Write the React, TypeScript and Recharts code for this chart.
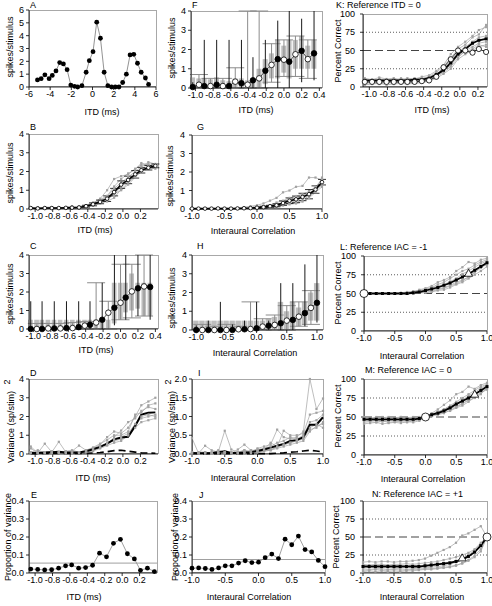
import React from "react";
import { ComposedChart, Line, Scatter, Bar, XAxis, YAxis, ErrorBar, ReferenceLine } from "recharts";

// ---- x grids ----
const A_X = [-5.2, -4.85, -4.5, -4.1, -3.8, -3.45, -3.1, -2.75, -2.4, -2.05, -1.7, -1.4, -1.0, -0.6, -0.3, 0.05, 0.4, 0.75, 1.1, 1.45, 1.8, 2.15, 2.5, 2.85, 3.2, 3.55, 3.9, 4.25, 4.6, 5.0, 5.3];
const ITD19 = [-1.05, -0.97, -0.89, -0.81, -0.73, -0.65, -0.58, -0.5, -0.42, -0.34, -0.26, -0.18, -0.1, -0.02, 0.06, 0.14, 0.21, 0.29, 0.37];
const ITD_K = [-1.05, -0.97, -0.89, -0.81, -0.73, -0.65, -0.58, -0.5, -0.42, -0.34, -0.26, -0.18, -0.1, -0.02, 0.06, 0.14, 0.21, 0.29];
const IAC21 = [-1, -0.9, -0.8, -0.7, -0.6, -0.5, -0.4, -0.3, -0.2, -0.1, 0, 0.1, 0.2, 0.3, 0.4, 0.5, 0.6, 0.7, 0.8, 0.9, 1];
const BOX_ITD = [-1.03, -0.96, -0.9, -0.83, -0.76, -0.69, -0.62, -0.55, -0.48, -0.41, -0.35, -0.28, -0.21, -0.14, -0.07, 0, 0.06, 0.13, 0.2, 0.27, 0.34];

// ---- ticks ----
const A_TICKS = [-6, -4, -2, 0, 2, 4, 6];
const A_YTICKS = [0, 1, 2, 3, 4, 5, 6];
const ITD_TICKS = [-1, -0.8, -0.6, -0.4, -0.2, 0, 0.2];
const ITD_TICKS4 = [-1, -0.8, -0.6, -0.4, -0.2, 0, 0.2, 0.4];
const IAC_TICKS = [-1, -0.5, 0, 0.5, 1];
const SPIKE_TICKS = [0, 1, 2, 3, 4];
const VAR_I_TICKS = [0, 0.5, 1, 1.5, 2];
const PROP_TICKS = [0, 0.1, 0.2, 0.3, 0.4];
const PC_TICKS = [0, 25, 50, 75, 100];

// ---- A ----
const A_Y = [0.55, 0.65, 0.95, 0.65, 0.9, 1.25, 1.9, 1.8, 1.35, 0.15, 0.05, 0, 0.1, 1.15, 2.05, 2.75, 5.05, 3.8, 1.15, 0.1, 0, 0, 0, 0.35, 1.0, 2.5, 2.55, 1.85, 1.15, 0.7, 0.2];

// ---- B ----
const B_MEAN = [0.05, 0.03, 0.05, 0.05, 0.05, 0.06, 0.07, 0.08, 0.15, 0.25, 0.38, 0.55, 0.9, 1.3, 1.55, 1.85, 2.07, 2.2, 2.3];
const B_ERR = [0, 0, 0, 0, 0, 0, 0, 0, 0.05, 0.08, 0.1, 0.15, 0.2, 0.2, 0.2, 0.2, 0.15, 0.12, 0.1];
const B_INDIV = [
  [0.05, 0.05, 0.05, 0.1, 0.05, 0.1, 0.15, 0.1, 0.2, 0.3, 0.55, 1.0, 1.6, 1.75, 1.85, 2.15, 2.35, 2.4, 2.4],
  [0.05, 0.05, 0.05, 0.05, 0.05, 0.05, 0.05, 0.1, 0.15, 0.2, 0.3, 0.5, 0.8, 1.0, 1.3, 1.7, 2.0, 2.15, 2.25],
  [0.1, 0.05, 0.1, 0.1, 0.05, 0.1, 0.1, 0.1, 0.2, 0.35, 0.5, 0.7, 1.2, 1.6, 1.9, 2.1, 2.45, 2.35, 2.2],
  [0.05, 0.05, 0.05, 0.05, 0.1, 0.05, 0.05, 0.05, 0.1, 0.2, 0.3, 0.4, 0.6, 1.05, 1.4, 1.75, 2.0, 2.2, 2.15],
  [0.05, 0.1, 0.05, 0.05, 0.05, 0.1, 0.1, 0.15, 0.2, 0.3, 0.45, 0.65, 1.1, 1.4, 1.7, 2.0, 2.25, 2.5, 2.4],
  [0.05, 0.05, 0.05, 0.05, 0.05, 0.05, 0.1, 0.1, 0.1, 0.25, 0.4, 0.55, 0.75, 1.2, 1.5, 1.8, 2.1, 2.3, 2.3],
];

// ---- D ----
const D_MEAN = [0.05, 0.05, 0.08, 0.1, 0.12, 0.08, 0.08, 0.08, 0.15, 0.25, 0.38, 0.55, 0.78, 0.88, 0.92, 1.5, 2.1, 2.2, 2.22];
const D_DASH = [0.02, 0.02, 0.03, 0.03, 0.03, 0.03, 0.03, 0.03, 0.04, 0.05, 0.08, 0.12, 0.18, 0.2, 0.15, 0.1, 0.06, 0.05, 0.04];
const D_INDIV = [
  [0.4, 0.05, 0.55, 0.1, 0.65, 0.1, 0.15, 0.45, 0.2, 0.3, 0.5, 0.9, 1.2, 1.1, 1.4, 2.0, 2.6, 2.8, 3.0],
  [0.1, 0.2, 0.05, 0.05, 0.1, 0.05, 0.1, 0.1, 0.15, 0.2, 0.35, 0.6, 0.7, 0.8, 1.0, 1.6, 2.0, 2.1, 2.0],
  [0.05, 0.05, 0.1, 0.15, 0.05, 0.1, 0.05, 0.1, 0.1, 0.2, 0.4, 0.5, 0.9, 1.25, 1.7, 1.9, 2.3, 2.5, 2.4],
  [0.05, 0.1, 0.05, 0.05, 0.05, 0.05, 0.1, 0.05, 0.1, 0.15, 0.3, 0.45, 0.6, 0.7, 1.0, 1.4, 1.7, 1.8, 1.9],
  [0.3, 0.05, 0.1, 0.1, 0.1, 0.15, 0.2, 0.1, 0.2, 0.35, 0.55, 0.75, 1.0, 1.0, 1.2, 2.1, 2.2, 2.6, 2.7],
  [0.1, 0.05, 0.05, 0.05, 0.1, 0.05, 0.05, 0.1, 0.1, 0.25, 0.35, 0.6, 0.8, 0.9, 1.1, 1.6, 1.9, 2.0, 2.1],
];

// ---- E / J ----
const E_Y = [0.022, 0.02, 0.017, 0.018, 0.027, 0.04, 0.045, 0.027, 0.03, 0.043, 0.11, 0.09, 0.165, 0.187, 0.107, 0.078, 0.015, 0.027, 0.008];
const E_REF = 0.055;
const J_Y = [0.027, 0.028, 0.025, 0.02, 0.028, 0.04, 0.04, 0.055, 0.068, 0.058, 0.06, 0.085, 0.105, 0.08, 0.188, 0.157, 0.205, 0.13, 0.117, 0.07, 0.035];
const J_REF = 0.075;

// ---- G ----
const G_MEAN = [0.02, 0.02, 0.02, 0.02, 0.03, 0.02, 0.02, 0.03, 0.04, 0.05, 0.07, 0.1, 0.15, 0.2, 0.32, 0.45, 0.52, 0.65, 0.8, 1.05, 1.45];
const G_ERR = [0, 0, 0, 0, 0, 0, 0, 0, 0, 0, 0.02, 0.05, 0.05, 0.08, 0.12, 0.15, 0.18, 0.2, 0.25, 0.2, 0.15];
const G_INDIV = [
  [0.02, 0.02, 0.02, 0.02, 0.05, 0.05, 0.02, 0.05, 0.1, 0.15, 0.2, 0.3, 0.45, 0.6, 0.9, 1.0, 1.2, 1.25, 1.7, 1.7, 1.55],
  [0.02, 0.02, 0.02, 0.02, 0.02, 0.02, 0.02, 0.02, 0.02, 0.03, 0.05, 0.05, 0.08, 0.1, 0.2, 0.3, 0.35, 0.5, 0.7, 1.0, 1.3],
  [0.02, 0.02, 0.02, 0.02, 0.02, 0.02, 0.02, 0.02, 0.05, 0.05, 0.1, 0.15, 0.2, 0.35, 0.45, 0.6, 0.7, 0.8, 0.95, 1.2, 1.6],
  [0.02, 0.02, 0.02, 0.02, 0.02, 0.02, 0.02, 0.02, 0.02, 0.02, 0.03, 0.05, 0.1, 0.12, 0.2, 0.25, 0.3, 0.4, 0.6, 0.9, 1.2],
  [0.02, 0.02, 0.02, 0.02, 0.02, 0.02, 0.02, 0.05, 0.05, 0.08, 0.1, 0.15, 0.2, 0.25, 0.35, 0.5, 0.6, 0.75, 0.85, 1.1, 1.35],
  [0.02, 0.02, 0.02, 0.02, 0.02, 0.02, 0.02, 0.02, 0.03, 0.03, 0.05, 0.08, 0.1, 0.15, 0.25, 0.35, 0.45, 0.6, 0.75, 0.95, 1.7],
];

// ---- I ----
const I_MEAN = [0.03, 0.02, 0.02, 0.03, 0.05, 0.07, 0.03, 0.03, 0.04, 0.05, 0.08, 0.12, 0.17, 0.22, 0.27, 0.35, 0.37, 0.45, 0.78, 0.78, 0.98];
const I_DASH = [0.01, 0.01, 0.01, 0.01, 0.01, 0.01, 0.01, 0.01, 0.01, 0.01, 0.01, 0.01, 0.01, 0.02, 0.03, 0.05, 0.06, 0.08, 0.1, 0.08, 0.05];
const I_INDIV = [
  [0.42, 0.02, 0.22, 0.1, 0.05, 0.62, 0.12, 0.05, 0.1, 0.05, 0.15, 0.2, 0.25, 0.65, 0.45, 0.4, 0.45, 0.6, 2.0, 1.2, 1.48],
  [0.05, 0.02, 0.02, 0.02, 0.1, 0.05, 0.02, 0.12, 0.25, 0.1, 0.1, 0.12, 0.3, 0.2, 0.62, 0.5, 0.5, 0.55, 1.05, 1.1, 1.15],
  [0.02, 0.05, 0.05, 0.02, 0.02, 0.02, 0.05, 0.02, 0.05, 0.1, 0.08, 0.1, 0.12, 0.18, 0.25, 0.3, 0.35, 0.4, 0.65, 0.7, 0.85],
  [0.02, 0.02, 0.02, 0.05, 0.02, 0.05, 0.02, 0.05, 0.05, 0.02, 0.05, 0.08, 0.1, 0.15, 0.2, 0.25, 0.3, 0.35, 0.6, 0.75, 0.8],
  [0.05, 0.02, 0.05, 0.02, 0.05, 0.02, 0.05, 0.02, 0.1, 0.05, 0.12, 0.15, 0.2, 0.3, 0.35, 0.45, 0.4, 0.5, 0.85, 0.9, 1.05],
  [0.02, 0.02, 0.02, 0.02, 0.02, 0.05, 0.02, 0.02, 0.02, 0.05, 0.05, 0.08, 0.1, 0.2, 0.25, 0.3, 0.38, 0.45, 0.7, 0.8, 0.7],
];

// ---- K ----
const K_MEAN = [9, 9, 9, 9, 9, 9, 9, 10, 10, 12, 17, 23, 33, 45, 52, 60, 64, 66];
const K_OPEN = [7, 7, 7, 7, 7, 7, 7, 7, 8, 9, 14, 27, 38, 50, 50, 47, 52, 48];
const K_INDIV = [
  [12, 10, 13, 11, 12, 10, 12, 11, 14, 16, 22, 30, 45, 55, 62, 70, 78, 82],
  [5, 6, 4, 6, 5, 7, 5, 6, 7, 9, 14, 20, 28, 40, 50, 55, 60, 62],
  [8, 10, 8, 9, 11, 9, 10, 12, 11, 14, 20, 28, 40, 52, 58, 68, 72, 85],
  [3, 4, 5, 3, 4, 5, 4, 5, 6, 8, 12, 18, 25, 38, 45, 50, 55, 58],
  [10, 8, 11, 9, 8, 12, 9, 10, 12, 13, 18, 25, 35, 48, 55, 62, 68, 70],
  [6, 7, 6, 8, 7, 6, 8, 7, 9, 10, 15, 22, 30, 43, 48, 52, 58, 55],
];

// ---- L ----
const L_MEAN = [50, 50, 50, 50, 50, 50, 50, 50, 51, 52, 54, 56, 58, 61, 64, 68, 72, 76, 81, 86, 91];
const L_REF = { x: -1, y: 50 };
const L_TRI = { x: 0.7, y: 77 };
const L_INDIV = [
  [50, 50, 50, 50, 50, 50, 50, 51, 52, 55, 57, 60, 65, 68, 72, 80, 85, 92, 90, 95, 97],
  [50, 50, 50, 50, 50, 50, 50, 50, 50, 51, 52, 53, 55, 57, 60, 63, 67, 72, 78, 84, 90],
  [50, 50, 50, 50, 50, 50, 51, 52, 53, 54, 56, 58, 62, 65, 70, 75, 80, 83, 88, 92, 95],
  [50, 50, 50, 50, 50, 50, 50, 50, 50, 51, 51, 52, 54, 55, 58, 62, 65, 70, 75, 80, 86],
  [50, 50, 50, 50, 50, 50, 50, 51, 52, 53, 55, 57, 60, 62, 66, 70, 76, 80, 85, 90, 93],
  [50, 50, 50, 50, 50, 50, 50, 50, 51, 52, 53, 55, 56, 58, 61, 65, 68, 72, 80, 86, 88],
];

// ---- M ----
const M_MEAN = [47, 47, 47, 47, 47, 47, 47, 47, 47, 48, 50, 53, 55, 58, 62, 67, 71, 75, 80, 85, 90];
const M_REF = { x: 0, y: 50 };
const M_TRI = { x: 0.8, y: 80 };
const M_INDIV = [
  [50, 48, 50, 49, 50, 48, 50, 49, 50, 49, 50, 55, 60, 66, 72, 80, 83, 90, 87, 92, 95],
  [43, 44, 43, 45, 43, 44, 44, 43, 45, 46, 50, 52, 54, 56, 58, 62, 65, 70, 76, 80, 88],
  [46, 47, 45, 46, 47, 46, 47, 46, 47, 48, 50, 54, 57, 60, 64, 68, 72, 78, 82, 88, 92],
  [41, 42, 43, 41, 42, 43, 42, 44, 43, 45, 50, 51, 53, 55, 59, 63, 67, 72, 75, 82, 86],
  [49, 48, 49, 50, 48, 49, 50, 48, 49, 50, 50, 53, 56, 60, 65, 70, 75, 80, 85, 90, 93],
  [45, 45, 46, 44, 45, 46, 45, 46, 46, 47, 50, 52, 55, 58, 61, 64, 68, 73, 78, 84, 87],
];

// ---- N ----
const N_MEAN = [9, 9, 9, 9, 9, 9, 9, 9, 9, 9, 10, 11, 12, 13, 14, 16, 19, 23, 29, 38, 50];
const N_REF = { x: 1, y: 50 };
const N_TRI = { x: 0.6, y: 21 };
const N_INDIV = [
  [15, 16, 15, 16, 16, 15, 16, 16, 17, 18, 20, 24, 28, 32, 36, 42, 52, 55, 60, 65, 50],
  [2, 3, 2, 3, 2, 3, 2, 3, 3, 4, 5, 5, 6, 7, 8, 10, 14, 18, 24, 33, 50],
  [6, 5, 6, 6, 5, 6, 6, 5, 6, 7, 7, 8, 9, 10, 12, 15, 18, 22, 30, 38, 50],
  [12, 11, 12, 12, 11, 12, 12, 13, 12, 13, 14, 15, 16, 18, 20, 22, 25, 28, 33, 42, 50],
  [4, 4, 5, 4, 4, 5, 4, 4, 5, 5, 6, 6, 7, 8, 9, 11, 13, 17, 22, 30, 50],
  [10, 9, 10, 10, 9, 10, 10, 9, 10, 10, 11, 12, 13, 14, 15, 17, 20, 25, 32, 40, 50],
];

// ---- box-plot panels (even index = filled, odd = open) ----
const F_Y = [0.05, 0.17, 0.1, 0.1, 0.17, 0.1, 0.1, 0.33, 0.25, 0.17, 0.4, 0.5, 0.9, 1.2, 1.5, 1.47, 1.37, 1.75, 1.93, 1.5, 1.8];
const F_LO = [0, 0, 0, 0, 0, 0, 0, 0, 0, 0, 0, 0, 0, 0.3, 0, 0.6, 0, 0.6, 0.3, 0.5, 0.4];
const F_HI = [0.3, 0.7, 2.5, 0.5, 2.5, 0.5, 2.5, 1.05, 2.5, 4, 1.6, 4, 2.5, 2.3, 3.5, 2.5, 4, 2.7, 3.6, 2.5, 4];
const F_Q1 = [0, 0, 0, 0, 0, 0, 0, 0, 0, 0, 0, 0, 0.2, 0.5, 0.5, 0.8, 0.5, 1.0, 1.0, 1.0, 1.0];
const F_Q3 = [0.55, 0.5, 0.5, 0.45, 0.55, 0.4, 0.35, 0.5, 0.5, 0.4, 0.5, 1.0, 1.5, 1.8, 2.5, 2.2, 2.5, 2.5, 2.7, 2.2, 2.5];

const C_Y = [0, 0, 0, 0.03, 0.03, 0.03, 0.05, 0.05, 0.1, 0.18, 0.23, 0.35, 0.5, 0.88, 1.15, 1.42, 1.7, 2.03, 2.2, 2.3, 2.27];
const C_LO = [0, 0, 0, 0, 0, 0, 0, 0, 0, 0, 0, 0, 0, 0, 0.2, 0.5, 0.5, 0.6, 0.7, 0.7, 0.5];
const C_HI = [1.5, 0.3, 1.5, 0.3, 1.5, 0.3, 1.5, 0.35, 1.5, 0.4, 1.5, 2.5, 2.5, 1.5, 4, 3.5, 4, 3.5, 4, 4, 4];
const C_Q1 = [0, 0, 0, 0, 0, 0, 0, 0, 0, 0, 0, 0, 0, 0, 0.3, 0.5, 0.9, 1.0, 1.1, 0.7, 0.7];
const C_Q3 = [0.5, 0.5, 0.5, 0.5, 0.5, 0.5, 0.5, 0.5, 0.5, 0.5, 0.5, 0.5, 0.5, 0.5, 2.5, 2.5, 2.5, 3.0, 2.5, 2.5, 2.5];

const H_Y = [0, 0, 0, 0, 0, 0, 0, 0.04, 0.04, 0.05, 0.09, 0.18, 0.23, 0.27, 0.36, 0.5, 0.54, 0.71, 0.9, 1.18, 1.45];
const H_LO = [0, 0, 0, 0, 0, 0, 0, 0, 0, 0, 0, 0, 0, 0, 0, 0, 0, 0.2, 0.2, 0.3, 0.4];
const H_HI = [0.25, 0.3, 0.5, 0.2, 1.5, 0.3, 0.3, 0.2, 0.5, 1.5, 1.5, 0.6, 0.5, 0.8, 2.5, 1.3, 2.5, 1.5, 3.5, 2.1, 4];
const H_Q1 = [0, 0, 0, 0, 0, 0, 0, 0, 0, 0, 0, 0, 0, 0, 0, 0, 0, 0.2, 0.3, 0.5, 0.5];
const H_Q3 = [0.5, 0.5, 0.5, 0.5, 0.5, 0.5, 0.5, 0.5, 0.5, 0.5, 0.5, 0.5, 0.6, 0.7, 1.5, 1.0, 1.5, 1.2, 1.5, 2.0, 2.5];

// ---- helpers ----
function rows(xs: number[], cols: Record<string, number[]>) {
  return xs.map((x, i) => {
    const r: any = { x };
    for (const k in cols) r[k] = cols[k][i];
    return r;
  });
}
function lineRows(xs: number[], indiv: number[][], cols: Record<string, number[]>) {
  const c: Record<string, number[]> = { ...cols };
  indiv.forEach((s, j) => (c["g" + j] = s));
  return rows(xs, c);
}
function boxRows(xs: number[], y: number[], lo: number[], hi: number[], q1: number[], q3: number[]) {
  return xs.map((x, i) => ({
    x,
    y: y[i],
    kind: i % 2 === 0 ? "b" : "w",
    err: [y[i] - lo[i], hi[i] - y[i]],
    box: [q1[i], q3[i]],
  }));
}

const FONT = "'Liberation Sans', Arial, sans-serif";
const TICK = { fontSize: 9, fill: "#000", fontFamily: FONT };
const AX = { stroke: "#000", strokeWidth: 0.8 };
const GRAY = "#a2a2a2";
const YW = 30, MT = 6, MR = 8, XH = 18;

const f1 = (v: number) => v.toFixed(1);
const f0 = (v: number) => String(v);

const sq = (fill: string, s: number) => (p: any) =>
  p.cx == null || p.cy == null ? <g key={p.key} /> : <rect key={p.key} x={p.cx - s / 2} y={p.cy - s / 2} width={s} height={s} fill={fill} />;
const circ = (fill: string, r: number, stroke = "#000") => (p: any) =>
  p.cx == null || p.cy == null ? <g key={p.key} /> : <circle key={p.key} cx={p.cx} cy={p.cy} r={r} fill={fill} stroke={stroke} strokeWidth={0.8} />;
const tri = (p: any) => (
  <polygon points={`${p.cx},${p.cy - 4} ${p.cx - 4},${p.cy + 3} ${p.cx + 4},${p.cy + 3}`} fill="#fff" stroke="#000" strokeWidth={0.8} />
);
const none = () => <g />;

function Panel({ r, data, xd, xt, yd, yt, xf = f1, yf = f0, ym = 2, children }: any) {
  const w = r[2] - r[0], h = r[3] - r[1];
  return (
    <div style={{ position: "absolute", left: r[0] - YW, top: r[1] - MT }}>
      <div style={{ position: "absolute", left: YW, top: MT, width: w + 1, height: h, border: "1px solid #a8a8a8", boxSizing: "border-box" }} />
      <ComposedChart width={w + YW + MR} height={h + MT + XH} data={data} margin={{ top: MT, right: MR, bottom: 0, left: 0 }}>
        <XAxis type="number" dataKey="x" domain={xd} ticks={xt} interval={0} tickFormatter={xf} height={XH} tick={TICK} tickSize={3} tickMargin={1} axisLine={AX} tickLine={AX} />
        <YAxis type="number" domain={yd} ticks={yt} interval={0} tickFormatter={yf} width={YW} tick={TICK} tickSize={3} tickMargin={ym} axisLine={AX} tickLine={AX} />
        {children}
      </ComposedChart>
    </div>
  );
}

function grayLines(n: number) {
  return Array.from({ length: n }, (_, j) => (
    <Line key={"g" + j} dataKey={"g" + j} stroke={GRAY} strokeWidth={0.7} dot={sq(GRAY, 2.2)} isAnimationActive={false} />
  ));
}

function BoxPanel({ r, data, xd, xt, bw }: any) {
  const blk = data.filter((d: any) => d.kind === "b");
  const wht = data.filter((d: any) => d.kind === "w");
  return (
    <Panel r={r} data={data} xd={xd} xt={xt} yd={[0, 4]} yt={SPIKE_TICKS}>
      <Bar dataKey="box" barSize={bw} fill="#bdbdbd" isAnimationActive={false} />
      <Scatter data={wht} dataKey="y" shape={none} isAnimationActive={false}>
        <ErrorBar dataKey="err" direction="y" width={9} stroke="#8c8c8c" strokeWidth={1} />
      </Scatter>
      <Scatter data={blk} dataKey="y" shape={none} isAnimationActive={false}>
        <ErrorBar dataKey="err" direction="y" width={0} stroke="#1a1a1a" strokeWidth={1} />
      </Scatter>
      <Line dataKey="y" stroke="#222" strokeWidth={0.8} dot={false} isAnimationActive={false} />
      <Scatter data={wht} dataKey="y" shape={circ("#fff", 2.8)} isAnimationActive={false} />
      <Scatter data={blk} dataKey="y" shape={circ("#000", 2.8)} isAnimationActive={false} />
    </Panel>
  );
}

function PcPanel({ r, data, xd, xt, n, refPt, triPt, open }: any) {
  return (
    <Panel r={r} data={data} xd={xd} xt={xt} yd={[0, 100]} yt={PC_TICKS} yf={f0} ym={5}>
      <ReferenceLine y={25} stroke="#333" strokeDasharray="1 2" strokeWidth={0.8} />
      <ReferenceLine y={75} stroke="#333" strokeDasharray="1 2" strokeWidth={0.8} />
      <ReferenceLine y={50} stroke="#444" strokeDasharray="8 4" strokeWidth={1.2} />
      {grayLines(n)}
      <Line dataKey="m" stroke="#000" strokeWidth={1.8} dot={sq("#000", 3)} isAnimationActive={false} />
      {open && <Line dataKey="o" stroke="#000" strokeWidth={0.8} dot={circ("#fff", 2.6)} isAnimationActive={false} />}
      {triPt && <Scatter data={[triPt]} dataKey="y" shape={tri} isAnimationActive={false} />}
      {refPt && <Scatter data={[refPt]} dataKey="y" shape={circ("#fff", 4)} isAnimationActive={false} />}
    </Panel>
  );
}

function T({ x, y, children, size = 9, c = false, rot = false }: any) {
  return (
    <div
      style={{
        position: "absolute",
        left: x,
        top: y,
        fontSize: size,
        fontFamily: FONT,
        whiteSpace: "nowrap",
        lineHeight: 1,
        transform: rot ? "translate(-50%,-50%) rotate(-90deg)" : c ? "translate(-50%,-50%)" : "translate(0,-50%)",
      }}
    >
      {children}
    </div>
  );
}

const ITD_XD = [-1.07, 0.4];
const BOX_XD = [-1.05, 0.43];
const K_XD = [-1.07, 0.3];
const IAC_XD = [-1, 1];
const H_XD = [-1.07, 1.1];

export default function App() {
  const aData = rows(A_X, { y: A_Y });
  const bData = lineRows(ITD19, B_INDIV, { m: B_MEAN, e: B_ERR });
  const dData = lineRows(ITD19, D_INDIV, { m: D_MEAN, d: D_DASH });
  const eData = rows(ITD19, { y: E_Y });
  const gData = lineRows(IAC21, G_INDIV, { m: G_MEAN, e: G_ERR });
  const iData = lineRows(IAC21, I_INDIV, { m: I_MEAN, d: I_DASH });
  const jData = rows(IAC21, { y: J_Y });
  const kData = lineRows(ITD_K, K_INDIV, { m: K_MEAN, o: K_OPEN });
  const lData = lineRows(IAC21, L_INDIV, { m: L_MEAN });
  const mData = lineRows(IAC21, M_INDIV, { m: M_MEAN });
  const nData = lineRows(IAC21, N_INDIV, { m: N_MEAN });
  const fData = boxRows(BOX_ITD, F_Y, F_LO, F_HI, F_Q1, F_Q3);
  const cData = boxRows(BOX_ITD, C_Y, C_LO, C_HI, C_Q1, C_Q3);
  const hData = boxRows(IAC21, H_Y, H_LO, H_HI, H_Q1, H_Q3);

  return (
    <div style={{ position: "absolute", left: 0, top: 0, width: 492, height: 606, background: "#fff", overflow: "hidden" }}>
      {/* A */}
      <Panel r={[29, 10, 156, 87]} data={aData} xd={[-6, 6]} xt={A_TICKS} yd={[0, 6]} yt={A_YTICKS} xf={f0}>
        <Line dataKey="y" stroke="#777" strokeWidth={0.8} dot={circ("#000", 2.4, "none")} isAnimationActive={false} />
      </Panel>
      {/* F */}
      <BoxPanel r={[191, 11, 322, 88]} data={fData} xd={BOX_XD} xt={ITD_TICKS4} bw={5} />
      {/* K */}
      <PcPanel r={[363, 14, 487, 87]} data={kData} xd={K_XD} xt={ITD_TICKS} n={K_INDIV.length} open />
      {/* B */}
      <Panel r={[29, 134, 158, 209]} data={bData} xd={ITD_XD} xt={ITD_TICKS} yd={[0, 4]} yt={SPIKE_TICKS}>
        {grayLines(B_INDIV.length)}
        <Line dataKey="m" stroke="#000" strokeWidth={1.6} dot={circ("#fff", 1.8)} isAnimationActive={false}>
          <ErrorBar dataKey="e" direction="y" width={4} stroke="#000" strokeWidth={0.8} />
        </Line>
      </Panel>
      {/* G */}
      <Panel r={[192, 135, 322, 209]} data={gData} xd={IAC_XD} xt={IAC_TICKS} yd={[0, 4]} yt={SPIKE_TICKS} ym={4}>
        {grayLines(G_INDIV.length)}
        <Line dataKey="m" stroke="#000" strokeWidth={1.6} dot={circ("#fff", 1.8)} isAnimationActive={false}>
          <ErrorBar dataKey="e" direction="y" width={4} stroke="#000" strokeWidth={0.8} />
        </Line>
      </Panel>
      {/* C */}
      <BoxPanel r={[29, 255, 158, 329]} data={cData} xd={BOX_XD} xt={ITD_TICKS4} bw={7} />
      {/* H */}
      <BoxPanel r={[192, 255, 323, 330]} data={hData} xd={H_XD} xt={IAC_TICKS} bw={7} />
      {/* L */}
      <PcPanel r={[364, 256, 487, 331]} data={lData} xd={IAC_XD} xt={IAC_TICKS} n={L_INDIV.length} refPt={L_REF} triPt={L_TRI} />
      {/* D */}
      <Panel r={[29, 379, 158, 454]} data={dData} xd={ITD_XD} xt={ITD_TICKS} yd={[0, 4]} yt={SPIKE_TICKS}>
        {grayLines(D_INDIV.length)}
        <Line dataKey="m" stroke="#000" strokeWidth={2} dot={false} isAnimationActive={false} />
        <Line dataKey="d" stroke="#000" strokeWidth={1.6} strokeDasharray="7 4" dot={false} isAnimationActive={false} />
      </Panel>
      {/* I */}
      <Panel r={[192, 379, 323, 454]} data={iData} xd={IAC_XD} xt={IAC_TICKS} yd={[0, 2]} yt={VAR_I_TICKS} yf={f1}>
        {grayLines(I_INDIV.length)}
        <Line dataKey="m" stroke="#000" strokeWidth={2} dot={false} isAnimationActive={false} />
        <Line dataKey="d" stroke="#000" strokeWidth={1.6} strokeDasharray="7 4" dot={false} isAnimationActive={false} />
      </Panel>
      {/* M */}
      <PcPanel r={[364, 379, 487, 455]} data={mData} xd={IAC_XD} xt={IAC_TICKS} n={M_INDIV.length} refPt={M_REF} triPt={M_TRI} />
      {/* E */}
      <Panel r={[29, 501, 157, 573]} data={eData} xd={ITD_XD} xt={ITD_TICKS} yd={[0, 0.4]} yt={PROP_TICKS} yf={f1}>
        <ReferenceLine y={E_REF} stroke="#888" strokeWidth={0.8} />
        <Line dataKey="y" stroke="#888" strokeWidth={0.8} dot={circ("#000", 2.4, "none")} isAnimationActive={false} />
      </Panel>
      {/* J */}
      <Panel r={[192, 501, 325, 573]} data={jData} xd={IAC_XD} xt={IAC_TICKS} yd={[0, 0.4]} yt={PROP_TICKS} yf={f1}>
        <ReferenceLine y={J_REF} stroke="#888" strokeWidth={0.8} />
        <Line dataKey="y" stroke="#888" strokeWidth={0.8} dot={circ("#000", 2.4, "none")} isAnimationActive={false} />
      </Panel>
      {/* N */}
      <PcPanel r={[363, 501, 487, 573]} data={nData} xd={IAC_XD} xt={IAC_TICKS} n={N_INDIV.length} refPt={N_REF} triPt={N_TRI} />

      {/* panel letters / titles */}
      <T x={30} y={5}>A</T>
      <T x={192} y={5}>F</T>
      <T x={336} y={4.5}>K: Reference ITD = 0</T>
      <T x={30} y={127}>B</T>
      <T x={197} y={127}>G</T>
      <T x={30} y={246}>C</T>
      <T x={197} y={246}>H</T>
      <T x={340} y={247}>L: Reference IAC = -1</T>
      <T x={30} y={373}>D</T>
      <T x={198} y={373}>I</T>
      <T x={365} y={370}>M: Reference IAC = 0</T>
      <T x={31} y={495}>E</T>
      <T x={199} y={495}>J</T>
      <T x={372} y={494}>N: Reference IAC = +1</T>

      {/* x labels */}
      <T x={102} y={112} c>ITD (ms)</T>
      <T x={256} y={110} c>ITD (ms)</T>
      <T x={432} y={110} c>ITD (ms)</T>
      <T x={95} y={230} c>ITD (ms)</T>
      <T x={253} y={231} c>Interaural Correlation</T>
      <T x={96} y={350} c>ITD (ms)</T>
      <T x={255} y={353} c>Interaural Correlation</T>
      <T x={422} y={356} c>Interaural Correlation</T>
      <T x={93} y={478} c>ITD (ms)</T>
      <T x={253} y={478} c>Interaural Correlation</T>
      <T x={423} y={479} c>Interaural Correlation</T>
      <T x={84} y={597} c>ITD (ms)</T>
      <T x={249} y={597} c>Interaural Correlation</T>
      <T x={422} y={597} c>Interaural Correlation</T>

      {/* y labels */}
      <T x={10} y={47} c rot>spikes/stimulus</T>
      <T x={172} y={48} c rot>spikes/stimulus</T>
      <T x={338} y={51} c rot>Percent Correct</T>
      <T x={10} y={173} c rot>spikes/stimulus</T>
      <T x={170} y={176} c rot>spikes/stimulus</T>
      <T x={10} y={294} c rot>spikes/stimulus</T>
      <T x={172} y={298} c rot>spikes/stimulus</T>
      <T x={338} y={293} c rot>Percent Correct</T>
      <T x={11} y={427} c rot>Variance (sp/stim)</T>
      <T x={7} y={382} c rot>2</T>
      <T x={172} y={427} c rot>Variance (sp/stim)</T>
      <T x={168} y={382} c rot>2</T>
      <T x={338} y={416} c rot>Percent Correct</T>
      <T x={8} y={537} c rot>Proportion of variance</T>
      <T x={175} y={537} c rot>Proportion of variance</T>
      <T x={336} y={537} c rot>Percent Correct</T>
    </div>
  );
}
